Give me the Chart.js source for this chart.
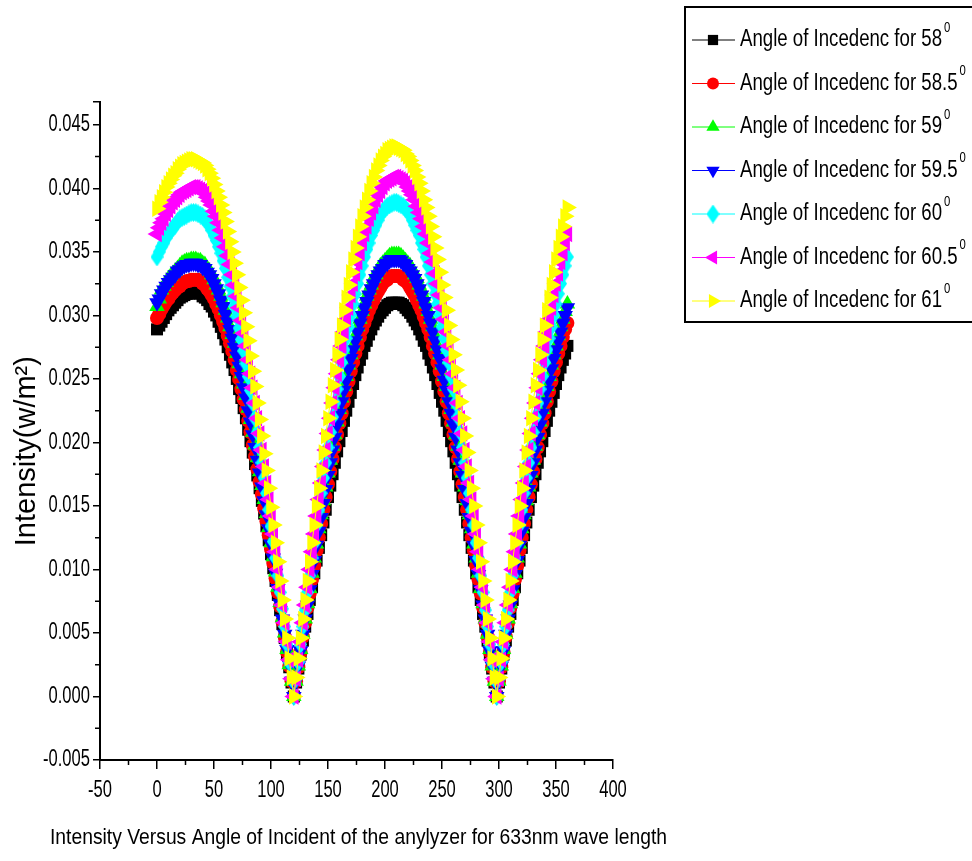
<!DOCTYPE html>
<html>
<head>
<meta charset="utf-8">
<script src="https://cdn.jsdelivr.net/npm/chart.js@4.4.1/dist/chart.umd.min.js"></script>
<style>
  html, body { margin: 0; padding: 0; background: #fff; }
  #wrap { width: 972px; height: 861px; }
</style>
</head>
<body>
<div id="wrap"><canvas id="myChart" width="972" height="861"></canvas></div>
<script>
// analyzer angle (deg), every 2 degrees
const angles = [
  0, 2, 4, 6, 8, 10, 12, 14, 16, 18, 20, 22, 24, 26, 28, 30, 32, 34, 36, 38,
  40, 42, 44, 46, 48, 50, 52, 54, 56, 58, 60, 62, 64, 66, 68, 70, 72, 74, 76, 78,
  80, 82, 84, 86, 88, 90, 92, 94, 96, 98, 100, 102, 104, 106, 108, 110, 112, 114, 116, 118,
  120, 122, 124, 126, 128, 130, 132, 134, 136, 138, 140, 142, 144, 146, 148, 150, 152, 154, 156, 158,
  160, 162, 164, 166, 168, 170, 172, 174, 176, 178, 180, 182, 184, 186, 188, 190, 192, 194, 196, 198,
  200, 202, 204, 206, 208, 210, 212, 214, 216, 218, 220, 222, 224, 226, 228, 230, 232, 234, 236, 238,
  240, 242, 244, 246, 248, 250, 252, 254, 256, 258, 260, 262, 264, 266, 268, 270, 272, 274, 276, 278,
  280, 282, 284, 286, 288, 290, 292, 294, 296, 298, 300, 302, 304, 306, 308, 310, 312, 314, 316, 318,
  320, 322, 324, 326, 328, 330, 332, 334, 336, 338, 340, 342, 344, 346, 348, 350, 352, 354, 356, 358,
  360
];

// intensity (w/m2), one array per angle of incidence
const i58 = [
  0.0289,0.0292,0.0295,0.0298,0.0301,0.0304,0.0306,0.0308,0.0310,0.0312,0.0314,0.0315,0.0316,0.0317,0.0317,0.0318,0.0318,0.0318,0.0318,0.0317,
  0.0315,0.0314,0.0312,0.0309,0.0307,0.0303,0.0300,0.0295,0.0291,0.0286,0.0281,0.0275,0.0269,0.0263,0.0257,0.0250,0.0242,0.0235,0.0227,0.0219,
  0.0210,0.0201,0.0192,0.0183,0.0174,0.0164,0.0154,0.0144,0.0134,0.0123,0.0112,0.0101,0.0091,0.0080,0.0068,0.0057,0.0046,0.0034,0.0023,0.0011,
  0.0000,
  0.0011,0.0022,0.0033,0.0044,0.0055,0.0065,0.0076,0.0086,0.0097,0.0107,0.0117,0.0127,0.0137,0.0147,0.0157,0.0166,0.0175,0.0184,0.0193,0.0201,0.0209,0.0217,
  0.0225,0.0232,0.0239,0.0246,0.0253,0.0259,0.0265,0.0270,0.0276,0.0280,0.0285,0.0289,0.0293,0.0296,0.0299,0.0302,0.0304,0.0306,0.0308,0.0309,0.0310,0.0310,
  0.0310,0.0310,0.0309,0.0308,0.0306,0.0304,0.0302,0.0299,0.0296,0.0293,0.0289,0.0285,0.0280,0.0276,0.0270,0.0265,0.0259,0.0253,0.0246,0.0239,0.0232,0.0225,
  0.0217,0.0209,0.0201,0.0193,0.0184,0.0175,0.0166,0.0157,0.0147,0.0137,0.0127,0.0117,0.0107,0.0097,0.0086,0.0076,0.0065,0.0055,0.0044,0.0033,0.0022,0.0011,
  0.0000,
  0.0011,0.0022,0.0033,0.0044,0.0055,0.0065,0.0076,0.0086,0.0097,0.0107,0.0117,0.0127,0.0137,0.0147,0.0157,0.0166,0.0175,0.0184,0.0193,0.0201,0.0209,0.0217,
  0.0225,0.0232,0.0239,0.0246,0.0253,0.0259,0.0265,0.0270,0.0276
];
const i58_5 = [
  0.0298,0.0301,0.0305,0.0308,0.0311,0.0313,0.0316,0.0318,0.0320,0.0322,0.0323,0.0325,0.0326,0.0327,0.0327,0.0328,0.0328,0.0328,0.0328,0.0327,
  0.0325,0.0324,0.0321,0.0319,0.0316,0.0313,0.0309,0.0305,0.0300,0.0295,0.0290,0.0284,0.0278,0.0272,0.0265,0.0257,0.0250,0.0242,0.0234,0.0226,
  0.0217,0.0208,0.0198,0.0189,0.0179,0.0169,0.0159,0.0148,0.0138,0.0127,0.0116,0.0105,0.0093,0.0082,0.0071,0.0059,0.0047,0.0035,0.0024,0.0012,
  0.0000,
  0.0012,0.0023,0.0035,0.0047,0.0058,0.0070,0.0081,0.0092,0.0103,0.0115,0.0125,0.0136,0.0147,0.0157,0.0167,0.0177,0.0187,0.0196,0.0206,0.0215,0.0223,0.0232,
  0.0240,0.0248,0.0256,0.0263,0.0270,0.0276,0.0283,0.0289,0.0294,0.0299,0.0304,0.0308,0.0312,0.0316,0.0319,0.0322,0.0325,0.0327,0.0328,0.0330,0.0331,0.0331,
  0.0331,0.0331,0.0330,0.0328,0.0327,0.0325,0.0322,0.0319,0.0316,0.0312,0.0308,0.0304,0.0299,0.0294,0.0289,0.0283,0.0276,0.0270,0.0263,0.0256,0.0248,0.0240,
  0.0232,0.0223,0.0215,0.0206,0.0196,0.0187,0.0177,0.0167,0.0157,0.0147,0.0136,0.0125,0.0115,0.0103,0.0092,0.0081,0.0070,0.0058,0.0047,0.0035,0.0023,0.0012,
  0.0000,
  0.0012,0.0023,0.0035,0.0047,0.0058,0.0070,0.0081,0.0092,0.0103,0.0115,0.0125,0.0136,0.0147,0.0157,0.0167,0.0177,0.0187,0.0196,0.0206,0.0215,0.0223,0.0232,
  0.0240,0.0248,0.0256,0.0263,0.0270,0.0276,0.0283,0.0289,0.0294
];
const i59 = [
  0.0307,0.0313,0.0320,0.0323,0.0326,0.0329,0.0331,0.0333,0.0335,0.0337,0.0339,0.0341,0.0342,0.0343,0.0343,0.0344,0.0344,0.0344,0.0343,0.0343,
  0.0341,0.0340,0.0337,0.0335,0.0332,0.0328,0.0324,0.0320,0.0315,0.0310,0.0304,0.0298,0.0291,0.0285,0.0278,0.0270,0.0262,0.0254,0.0246,0.0237,
  0.0227,0.0218,0.0208,0.0198,0.0188,0.0177,0.0166,0.0155,0.0144,0.0133,0.0121,0.0110,0.0098,0.0086,0.0074,0.0062,0.0050,0.0037,0.0025,0.0012,
  0.0000,
  0.0012,0.0024,0.0037,0.0049,0.0061,0.0073,0.0085,0.0097,0.0109,0.0120,0.0132,0.0143,0.0154,0.0165,0.0176,0.0186,0.0197,0.0206,0.0216,0.0226,0.0235,0.0244,
  0.0252,0.0261,0.0269,0.0276,0.0284,0.0291,0.0297,0.0303,0.0309,0.0315,0.0320,0.0324,0.0329,0.0332,0.0336,0.0339,0.0341,0.0343,0.0345,0.0347,0.0348,0.0348,
  0.0348,0.0348,0.0347,0.0345,0.0343,0.0341,0.0339,0.0336,0.0332,0.0329,0.0324,0.0320,0.0315,0.0309,0.0303,0.0297,0.0291,0.0284,0.0276,0.0269,0.0261,0.0252,
  0.0244,0.0235,0.0226,0.0216,0.0206,0.0197,0.0186,0.0176,0.0165,0.0154,0.0143,0.0132,0.0120,0.0109,0.0097,0.0085,0.0073,0.0061,0.0049,0.0037,0.0024,0.0012,
  0.0000,
  0.0012,0.0024,0.0037,0.0049,0.0061,0.0073,0.0085,0.0097,0.0109,0.0120,0.0132,0.0143,0.0154,0.0165,0.0176,0.0186,0.0197,0.0206,0.0216,0.0226,0.0235,0.0244,
  0.0252,0.0261,0.0269,0.0276,0.0284,0.0291,0.0297,0.0303,0.0309
];
const i59_5 = [
  0.0310,0.0313,0.0317,0.0320,0.0323,0.0326,0.0328,0.0330,0.0332,0.0335,0.0336,0.0338,0.0339,0.0340,0.0340,0.0341,0.0341,0.0341,0.0340,0.0340,
  0.0338,0.0337,0.0334,0.0332,0.0329,0.0325,0.0321,0.0317,0.0312,0.0307,0.0301,0.0295,0.0289,0.0282,0.0275,0.0268,0.0260,0.0252,0.0243,0.0235,
  0.0225,0.0216,0.0206,0.0196,0.0186,0.0176,0.0165,0.0154,0.0143,0.0132,0.0120,0.0109,0.0097,0.0085,0.0073,0.0061,0.0049,0.0037,0.0025,0.0012,
  0.0000,
  0.0012,0.0024,0.0036,0.0049,0.0061,0.0072,0.0084,0.0096,0.0107,0.0119,0.0130,0.0141,0.0152,0.0163,0.0174,0.0184,0.0194,0.0204,0.0214,0.0223,0.0232,0.0241,
  0.0249,0.0258,0.0266,0.0273,0.0280,0.0287,0.0294,0.0300,0.0306,0.0311,0.0316,0.0321,0.0325,0.0329,0.0332,0.0335,0.0337,0.0340,0.0341,0.0343,0.0344,0.0344,
  0.0344,0.0344,0.0343,0.0341,0.0340,0.0337,0.0335,0.0332,0.0329,0.0325,0.0321,0.0316,0.0311,0.0306,0.0300,0.0294,0.0287,0.0280,0.0273,0.0266,0.0258,0.0249,
  0.0241,0.0232,0.0223,0.0214,0.0204,0.0194,0.0184,0.0174,0.0163,0.0152,0.0141,0.0130,0.0119,0.0107,0.0096,0.0084,0.0072,0.0061,0.0049,0.0036,0.0024,0.0012,
  0.0000,
  0.0012,0.0024,0.0036,0.0049,0.0061,0.0072,0.0084,0.0096,0.0107,0.0119,0.0130,0.0141,0.0152,0.0163,0.0174,0.0184,0.0194,0.0204,0.0214,0.0223,0.0232,0.0241,
  0.0249,0.0258,0.0266,0.0273,0.0280,0.0287,0.0294,0.0300,0.0306
];
const i60 = [
  0.0346,0.0350,0.0354,0.0357,0.0361,0.0364,0.0367,0.0369,0.0371,0.0374,0.0376,0.0377,0.0378,0.0379,0.0380,0.0381,0.0381,0.0381,0.0380,0.0379,
  0.0378,0.0376,0.0373,0.0371,0.0367,0.0363,0.0359,0.0354,0.0349,0.0343,0.0337,0.0330,0.0323,0.0315,0.0307,0.0299,0.0290,0.0281,0.0272,0.0262,
  0.0252,0.0241,0.0231,0.0219,0.0208,0.0196,0.0184,0.0172,0.0160,0.0147,0.0134,0.0122,0.0109,0.0095,0.0082,0.0069,0.0055,0.0041,0.0027,0.0014,
  0.0000,
  0.0014,0.0027,0.0041,0.0055,0.0068,0.0082,0.0095,0.0109,0.0121,0.0135,0.0147,0.0160,0.0172,0.0184,0.0196,0.0208,0.0220,0.0231,0.0242,0.0252,0.0263,0.0273,
  0.0282,0.0291,0.0300,0.0309,0.0317,0.0325,0.0332,0.0339,0.0346,0.0352,0.0357,0.0363,0.0367,0.0371,0.0375,0.0379,0.0382,0.0384,0.0386,0.0387,0.0388,0.0389,
  0.0389,0.0388,0.0387,0.0386,0.0384,0.0382,0.0379,0.0375,0.0371,0.0367,0.0363,0.0357,0.0352,0.0346,0.0339,0.0332,0.0325,0.0317,0.0309,0.0300,0.0291,0.0282,
  0.0273,0.0263,0.0252,0.0242,0.0231,0.0220,0.0208,0.0196,0.0184,0.0172,0.0160,0.0147,0.0135,0.0121,0.0109,0.0095,0.0082,0.0068,0.0055,0.0041,0.0027,0.0014,
  0.0000,
  0.0014,0.0027,0.0041,0.0055,0.0068,0.0082,0.0095,0.0109,0.0121,0.0135,0.0147,0.0160,0.0172,0.0184,0.0196,0.0208,0.0220,0.0231,0.0242,0.0252,0.0263,0.0273,
  0.0282,0.0291,0.0300,0.0309,0.0317,0.0325,0.0332,0.0339,0.0346
];
const i60_5 = [
  0.0364,0.0369,0.0373,0.0376,0.0380,0.0383,0.0386,0.0389,0.0391,0.0393,0.0395,0.0397,0.0398,0.0399,0.0400,0.0401,0.0401,0.0401,0.0400,0.0399,
  0.0398,0.0396,0.0393,0.0390,0.0387,0.0382,0.0378,0.0373,0.0367,0.0361,0.0354,0.0347,0.0340,0.0332,0.0324,0.0315,0.0306,0.0296,0.0286,0.0276,
  0.0265,0.0254,0.0243,0.0231,0.0219,0.0207,0.0194,0.0181,0.0168,0.0155,0.0142,0.0128,0.0114,0.0100,0.0086,0.0072,0.0058,0.0043,0.0029,0.0014,
  0.0000,
  0.0014,0.0029,0.0043,0.0058,0.0072,0.0086,0.0100,0.0114,0.0128,0.0142,0.0155,0.0168,0.0181,0.0194,0.0207,0.0219,0.0231,0.0243,0.0254,0.0265,0.0276,0.0287,
  0.0297,0.0306,0.0316,0.0325,0.0333,0.0342,0.0349,0.0357,0.0364,0.0370,0.0376,0.0381,0.0386,0.0391,0.0395,0.0398,0.0401,0.0404,0.0406,0.0407,0.0408,0.0409,
  0.0409,0.0408,0.0407,0.0406,0.0404,0.0401,0.0398,0.0395,0.0391,0.0386,0.0381,0.0376,0.0370,0.0364,0.0357,0.0349,0.0342,0.0333,0.0325,0.0316,0.0306,0.0297,
  0.0287,0.0276,0.0265,0.0254,0.0243,0.0231,0.0219,0.0207,0.0194,0.0181,0.0168,0.0155,0.0142,0.0128,0.0114,0.0100,0.0086,0.0072,0.0058,0.0043,0.0029,0.0014,
  0.0000,
  0.0014,0.0029,0.0043,0.0058,0.0072,0.0086,0.0100,0.0114,0.0128,0.0142,0.0155,0.0168,0.0181,0.0194,0.0207,0.0219,0.0231,0.0243,0.0254,0.0265,0.0276,0.0287,
  0.0297,0.0306,0.0316,0.0325,0.0333,0.0342,0.0349,0.0357,0.0364
];
const i61 = [
  0.0384,0.0389,0.0393,0.0397,0.0401,0.0404,0.0407,0.0410,0.0412,0.0415,0.0417,0.0419,0.0420,0.0421,0.0422,0.0423,0.0423,0.0423,0.0422,0.0421,
  0.0420,0.0418,0.0415,0.0412,0.0408,0.0403,0.0398,0.0393,0.0387,0.0381,0.0374,0.0366,0.0358,0.0350,0.0341,0.0332,0.0322,0.0312,0.0302,0.0291,
  0.0280,0.0268,0.0256,0.0244,0.0231,0.0218,0.0205,0.0191,0.0178,0.0164,0.0149,0.0135,0.0121,0.0106,0.0091,0.0076,0.0061,0.0046,0.0030,0.0015,
  0.0000,
  0.0015,0.0030,0.0046,0.0061,0.0076,0.0091,0.0106,0.0121,0.0135,0.0150,0.0164,0.0178,0.0192,0.0205,0.0219,0.0232,0.0245,0.0257,0.0269,0.0281,0.0292,0.0304,
  0.0314,0.0324,0.0334,0.0344,0.0353,0.0362,0.0370,0.0378,0.0385,0.0391,0.0398,0.0404,0.0409,0.0414,0.0418,0.0422,0.0425,0.0427,0.0430,0.0431,0.0432,0.0433,
  0.0433,0.0432,0.0431,0.0430,0.0427,0.0425,0.0422,0.0418,0.0414,0.0409,0.0404,0.0398,0.0391,0.0385,0.0378,0.0370,0.0362,0.0353,0.0344,0.0334,0.0324,0.0314,
  0.0304,0.0292,0.0281,0.0269,0.0257,0.0245,0.0232,0.0219,0.0205,0.0192,0.0178,0.0164,0.0150,0.0135,0.0121,0.0106,0.0091,0.0076,0.0061,0.0046,0.0030,0.0015,
  0.0000,
  0.0015,0.0030,0.0046,0.0061,0.0076,0.0091,0.0106,0.0121,0.0135,0.0150,0.0164,0.0178,0.0192,0.0205,0.0219,0.0232,0.0245,0.0257,0.0269,0.0281,0.0292,0.0304,
  0.0314,0.0324,0.0334,0.0344,0.0353,0.0362,0.0370,0.0378,0.0385
];

const seriesNames = ['58', '58.5', '59', '59.5', '60', '60.5', '61'];
const seriesValues = [i58, i58_5, i59, i59_5, i60, i60_5, i61];
const seriesColors = ['#000000', '#ff0000', '#00ff00', '#0000ff', '#00ffff', '#ff00ff', '#ffff00'];

const xTicks = [-50, 0, 50, 100, 150, 200, 250, 300, 350, 400];
const yTicks = [-0.005, 0, 0.005, 0.010, 0.015, 0.020, 0.025, 0.030, 0.035, 0.040, 0.045, 0.0468];

const xTitle = 'Intensity Versus Angle of Incident of the anylyzer for 633nm wave length';
const yTitle = 'Intensity(w/m²)';

// Origin style narrow diamond
function makeDiamond(color) {
  const c = document.createElement('canvas');
  c.width = 13;
  c.height = 19;
  const g = c.getContext('2d');
  g.fillStyle = color;
  g.beginPath();
  g.moveTo(6.5, 0);
  g.lineTo(13, 9.5);
  g.lineTo(6.5, 19);
  g.lineTo(0, 9.5);
  g.closePath();
  g.fill();
  return c;
}

const markerStyles = ['rect', 'circle', 'triangle', 'triangle', makeDiamond('#00ffff'), 'triangle', 'triangle'];
const markerRotation = [0, 0, 0, 180, 0, -90, 90];
const markerRadius = [8.5, 7, 9, 9, 9, 9.5, 9.5];

const FONT = "'Liberation Sans', Arial, sans-serif";

const datasets = seriesValues.map((vals, i) => ({
  label: 'Angle of Incedenc for ' + seriesNames[i],
  data: angles.map((a, k) => ({ x: a, y: vals[k] })),
  borderColor: seriesColors[i],
  backgroundColor: seriesColors[i],
  pointBackgroundColor: seriesColors[i],
  pointBorderColor: seriesColors[i],
  pointBorderWidth: 0,
  pointStyle: markerStyles[i],
  pointRotation: markerRotation[i],
  pointRadius: markerRadius[i],
  borderWidth: 1,
  tension: 0,
  order: seriesValues.length - i
}));

// squeezed text, the original uses a narrow font
function narrowText(ctx, text, x, y, align, sx) {
  const w = ctx.measureText(text).width * sx;
  const left = align === 'center' ? x - w / 2 : (align === 'right' ? x - w : x);
  ctx.save();
  ctx.translate(left, y);
  ctx.scale(sx, 1);
  ctx.textAlign = 'left';
  ctx.fillText(text, 0, 0);
  ctx.restore();
  return w;
}

// minor ticks, tick labels and x title
const axisDecor = {
  id: 'axisDecor',
  afterDraw(chart) {
    const ctx = chart.ctx;
    const xs = chart.scales.x, ys = chart.scales.y;
    ctx.save();
    ctx.strokeStyle = '#000';
    ctx.lineWidth = 1.5;
    ctx.beginPath();
    for (let i = 0; i < xTicks.length - 1; i++) {
      const px = xs.getPixelForValue((xTicks[i] + xTicks[i + 1]) / 2);
      ctx.moveTo(px, ys.bottom);
      ctx.lineTo(px, ys.bottom + 5);
    }
    for (let i = 0; i < yTicks.length - 2; i++) {
      const py = ys.getPixelForValue((yTicks[i] + yTicks[i + 1]) / 2);
      ctx.moveTo(xs.left - 5, py);
      ctx.lineTo(xs.left, py);
    }
    ctx.stroke();

    ctx.fillStyle = '#000';
    ctx.textBaseline = 'middle';
    ctx.font = '23px ' + FONT;
    xTicks.forEach(v => {
      narrowText(ctx, String(v), xs.getPixelForValue(v), ys.bottom + 31, 'center', 0.72);
    });
    yTicks.slice(0, -1).forEach(v => {
      narrowText(ctx, v.toFixed(3), xs.left - 10, ys.getPixelForValue(v), 'right', 0.72);
    });

    ctx.font = '22px ' + FONT;
    const tw = ctx.measureText(xTitle).width;
    narrowText(ctx, xTitle, (xs.left + xs.right) / 2 + 2, 838, 'center', 617 / tw);
    ctx.restore();
  }
};

// boxed legend at top right
const legendBox = {
  id: 'legendBox',
  afterDraw(chart) {
    const ctx = chart.ctx;
    ctx.save();
    ctx.strokeStyle = '#000';
    ctx.lineWidth = 2;
    ctx.strokeRect(685, 7, 300, 315);
    ctx.font = '23px ' + FONT;
    const sx = 202 / ctx.measureText(chart.data.datasets[0].label).width;
    chart.data.datasets.forEach((ds, i) => {
      const y = 40 + i * 43.5;
      ctx.strokeStyle = ds.borderColor;
      ctx.lineWidth = 1;
      ctx.beginPath();
      ctx.moveTo(692, y);
      ctx.lineTo(735, y);
      ctx.stroke();
      ctx.fillStyle = ds.backgroundColor;
      Chart.helpers.drawPoint(ctx, {
        pointStyle: ds.pointStyle,
        rotation: ds.pointRotation,
        radius: ds.pointRadius * 0.85,
        borderWidth: 0
      }, 713, y);

      ctx.fillStyle = '#000';
      ctx.textBaseline = 'middle';
      ctx.font = '23px ' + FONT;
      const w = narrowText(ctx, ds.label, 740, y, 'left', sx);
      ctx.font = '14px ' + FONT;
      narrowText(ctx, '0', 742 + w, y - 12, 'left', sx);
    });
    ctx.restore();
  }
};

new Chart(document.getElementById('myChart'), {
  type: 'line',
  data: { datasets: datasets },
  options: {
    responsive: false,
    animation: false,
    devicePixelRatio: 1,
    events: [],
    layout: { padding: { top: 102, right: 359, bottom: 0, left: 0 } },
    plugins: {
      legend: { display: false },
      tooltip: { enabled: false }
    },
    scales: {
      x: {
        type: 'linear',
        min: -50,
        max: 400,
        afterBuildTicks: (scale) => { scale.ticks = xTicks.map(v => ({ value: v })); },
        afterFit: (scale) => { scale.height = 101; },
        ticks: { display: false },
        grid: { drawOnChartArea: false, drawTicks: true, tickLength: 9, color: '#000', lineWidth: 1.5 },
        border: { display: true, color: '#000', width: 2 }
      },
      y: {
        type: 'linear',
        min: -0.005,
        max: 0.0468,
        afterBuildTicks: (scale) => { scale.ticks = yTicks.map(v => ({ value: v })); },
        afterFit: (scale) => { scale.width = 100; },
        ticks: { display: false },
        grid: { drawOnChartArea: false, drawTicks: true, tickLength: 7, color: '#000', lineWidth: 1.5 },
        border: { display: true, color: '#000', width: 2 },
        title: {
          display: true,
          text: yTitle + '     ',
          color: '#000',
          font: { family: FONT, size: 29 },
          padding: { top: 10, bottom: 0 }
        }
      }
    }
  },
  plugins: [axisDecor, legendBox]
});
</script>
</body>
</html>
